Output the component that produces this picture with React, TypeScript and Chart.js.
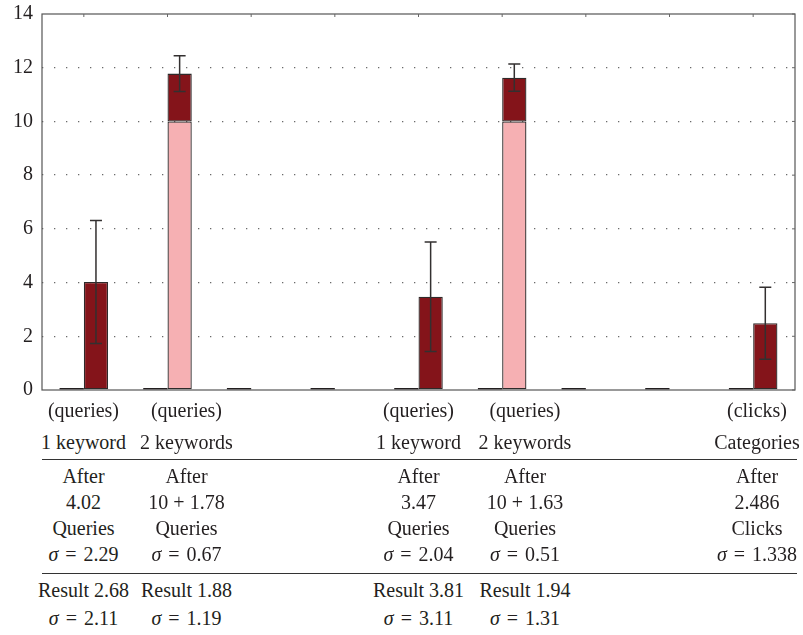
import React, { useEffect, useRef } from 'react';
import { Chart, registerables } from 'chart.js';
Chart.register(...registerables);

// ---- data ----
const categories = ['1 keyword', '2 keywords', 'gap a', 'gap b', '1 keyword (2)', '2 keywords (2)', 'gap c', 'gap d', 'Categories'];
const stubValues = [0, 0, 0, 0, 0, 0, 0, 0, 0];
const baseValues = [0, 10, 0, 0, 0, 10, 0, 0, 0];
const afterValues = [4.02, 1.78, 0, 0, 3.47, 1.63, 0, 0, 2.486];
const sigmaValues = [2.29, 0.67, 0, 0, 2.04, 0.51, 0, 0, 1.338];
const yTicks = [0, 2, 4, 6, 8, 10, 12, 14];

const headerTop = ['(queries)', '(queries)', '(queries)', '(queries)', '(clicks)'];
const headerBottom = ['1 keyword', '2 keywords', '1 keyword', '2 keywords', 'Categories'];
const afterWord = ['After', 'After', 'After', 'After', 'After'];
const afterMeans = ['4.02', '10 + 1.78', '3.47', '10 + 1.63', '2.486'];
const afterUnits = ['Queries', 'Queries', 'Queries', 'Queries', 'Clicks'];
const afterSigmas = ['2.29', '0.67', '2.04', '0.51', '1.338'];
const resultMeans = ['2.68', '1.88', '3.81', '1.94', ''];
const resultSigmas = ['2.11', '1.19', '3.11', '1.31', ''];

// ---- layout ----
const colCenters = [83.5, 186.5, 418.5, 525, 757];
const rowBaselines = [417, 449, 483, 509, 535, 561, 597, 625];
const ruleYs = [459, 573];
const FONT = '"Liberation Serif", "Times New Roman", serif';
const TEXT = '#231f20';

function Cell({ x, baseline, children }: { x: number; baseline: number; children: React.ReactNode }) {
  return (
    <div
      style={{
        position: 'absolute',
        left: x - 100,
        width: 200,
        top: baseline - 20,
        lineHeight: '26px',
        fontSize: 20,
        fontFamily: FONT,
        color: TEXT,
        textAlign: 'center',
        whiteSpace: 'nowrap',
      }}
    >
      {children}
    </div>
  );
}

const Sigma = ({ v }: { v: string }) => (
  <span>
    <i>σ</i>&nbsp;<span style={{ padding: '0 2px' }}>=</span>&nbsp;{v}
  </span>
);

export default function App() {
  const ref = useRef<HTMLCanvasElement>(null);

  useEffect(() => {
    const canvas = ref.current!;
    const errorBars = {
      id: 'errorBars',
      afterDatasetsDraw(chart: any) {
        const meta = chart.getDatasetMeta(2);
        const y = chart.scales.y;
        const ctx = chart.ctx;
        ctx.save();
        ctx.strokeStyle = '#333030';
        ctx.lineWidth = 1.5;
        sigmaValues.forEach((s, i) => {
          if (!s) return;
          const total = baseValues[i] + afterValues[i];
          const x = meta.data[i].x;
          const yt = y.getPixelForValue(total + s);
          const yb = y.getPixelForValue(total - s);
          ctx.beginPath();
          ctx.moveTo(x, yt);
          ctx.lineTo(x, yb);
          ctx.moveTo(x - 6, yt);
          ctx.lineTo(x + 6, yt);
          ctx.moveTo(x - 6, yb);
          ctx.lineTo(x + 6, yb);
          ctx.stroke();
        });
        ctx.restore();
      },
    };
    const frame = {
      id: 'frame',
      beforeDatasetsDraw(chart: any) {
        const { left, right, top, bottom } = chart.chartArea;
        const ctx = chart.ctx;
        ctx.save();
        ctx.strokeStyle = '#555';
        ctx.lineWidth = 1.2;
        ctx.strokeRect(left, top, right - left, bottom - top);
        ctx.lineWidth = 1;
        ctx.strokeStyle = '#666';
        ctx.beginPath();
        categories.forEach((_, i) => {
          const x = chart.scales.x.getPixelForValue(i);
          ctx.moveTo(x, top);
          ctx.lineTo(x, top + 3);
        });
        yTicks.forEach((v) => {
          const yy = chart.scales.y.getPixelForValue(v);
          ctx.moveTo(right, yy);
          ctx.lineTo(right - 3, yy);
        });
        ctx.stroke();
        ctx.restore();
      },
    };

    const chart = new Chart(canvas, {
      type: 'bar',
      data: {
        labels: categories,
        datasets: [
          {
            label: 'none',
            data: stubValues,
            stack: 'L',
            backgroundColor: '#231f20',
            borderWidth: 0,
            minBarLength: 2,
          },
          {
            label: 'base',
            data: baseValues,
            stack: 'R',
            backgroundColor: '#f6b0b3',
            borderColor: '#2e2a2a',
            borderWidth: 1.3,
            borderSkipped: false,
          },
          {
            label: 'after',
            data: afterValues,
            stack: 'R',
            backgroundColor: '#84141a',
            borderColor: '#2e2a2a',
            borderWidth: 1.3,
            borderSkipped: false,
          },
        ],
      },
      options: {
        responsive: false,
        animation: false,
        devicePixelRatio: 1,
        layout: { padding: { top: 14, right: 8, bottom: 10, left: 0 } },
        datasets: { bar: { categoryPercentage: 0.58, barPercentage: 1 } },
        plugins: { legend: { display: false }, tooltip: { enabled: false } },
        scales: {
          x: {
            stacked: true,
            grid: { display: false, drawTicks: false },
            border: { display: false },
            ticks: { display: false },
            afterFit: (s: any) => {
              s.height = 0;
              s.paddingLeft = 0;
              s.paddingRight = 0;
            },
          },
          y: {
            stacked: true,
            min: 0,
            max: 14,
            afterBuildTicks: (s: any) => {
              s.ticks = yTicks.map((v) => ({ value: v }));
            },
            grid: {
              drawTicks: false,
              lineWidth: 1.3,
              color: (c: any) => (c.tick && (c.tick.value === 0 || c.tick.value === 14) ? 'rgba(0,0,0,0)' : '#6a6a6a'),
            },
            border: { display: false, dash: [1.3, 10.7] },
            ticks: {
              padding: 9,
              color: TEXT,
              font: { family: FONT, size: 20 },
            },
            afterFit: (s: any) => {
              s.width = 42;
              s.paddingTop = 0;
              s.paddingBottom = 0;
            },
          },
        },
      },
      plugins: [frame, errorBars],
    } as any);
    return () => chart.destroy();
  }, []);

  const rows: React.ReactNode[][] = [
    headerTop,
    headerBottom,
    afterWord,
    afterMeans,
    afterUnits,
    afterSigmas.map((v) => <Sigma v={v} />),
    resultMeans.map((v) => (v ? `Result ${v}` : '')),
    resultSigmas.map((v) => (v ? <Sigma v={v} /> : '')),
  ];

  return (
    <div style={{ position: 'absolute', left: 0, top: 0, width: 803, height: 635, background: '#fff' }}>
      <canvas ref={ref} width={803} height={400} style={{ position: 'absolute', left: 0, top: 0, width: 803, height: 400 }} />
      {ruleYs.map((y, i) => (
        <div key={'r' + i} style={{ position: 'absolute', left: 42, width: 755, top: y, height: 0, borderTop: '1.2px solid #333' }} />
      ))}
      {rows.map((row, r) =>
        row.map((content, c) =>
          content ? (
            <Cell key={r + '-' + c} x={colCenters[c]} baseline={rowBaselines[r]}>
              {content}
            </Cell>
          ) : null
        )
      )}
    </div>
  );
}
